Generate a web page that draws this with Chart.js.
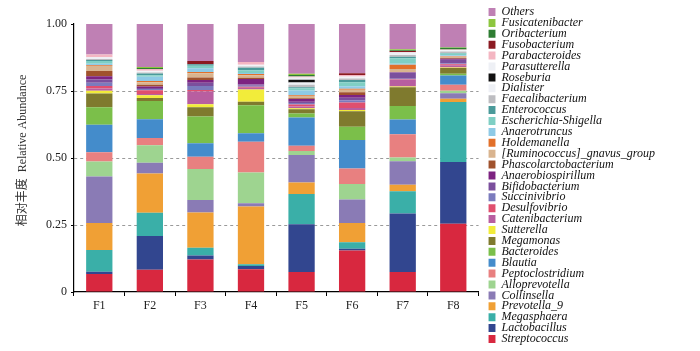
<!DOCTYPE html>
<html>
<head>
<meta charset="utf-8">
<script src="https://cdn.jsdelivr.net/npm/chart.js@4"></script>
<style>
  html, body { margin: 0; padding: 0; background: #fff; }
  #wrap { width: 700px; height: 351px; position: relative; }
</style>
</head>
<body>
<div id="wrap"><canvas id="myChart"></canvas></div>
<script>
const categories = ['F1', 'F2', 'F3', 'F4', 'F5', 'F6', 'F7', 'F8'];
const yTickLabels = ['0', '0.25', '0.50', '0.75', '1.00'];

// relative abundance per sample, bottom of the stack first
const streptococcus = [0.067, 0.083, 0.121, 0.085, 0.075, 0.155, 0.075, 0.255];
const lactobacillus = [0.009, 0.126, 0.015, 0.012, 0.178, 0.006, 0.218, 0.230];
const megasphaera = [0.081, 0.087, 0.029, 0.007, 0.113, 0.025, 0.083, 0.224];
const prevotella9 = [0.100, 0.146, 0.132, 0.215, 0.043, 0.071, 0.024, 0.012];
const collinsella = [0.174, 0.040, 0.046, 0.012, 0.102, 0.088, 0.088, 0.021];
const alloprevotella = [0.056, 0.066, 0.116, 0.115, 0.015, 0.058, 0.014, 0.009];
const peptoclostridium = [0.034, 0.027, 0.046, 0.115, 0.020, 0.058, 0.087, 0.022];
const blautia = [0.103, 0.070, 0.050, 0.031, 0.105, 0.106, 0.055, 0.035];
const bacteroides = [0.065, 0.068, 0.100, 0.105, 0.015, 0.050, 0.050, 0.006];
const megamonas = [0.052, 0.011, 0.034, 0.013, 0.016, 0.057, 0.070, 0.022];
const sutterella = [0.010, 0.010, 0.012, 0.046, 0.004, 0.005, 0.003, 0.002];
const catenibacterium = [0.008, 0.005, 0.047, 0.006, 0.006, 0.008, 0.025, 0.008];
const desulfovibrio = [0.010, 0.014, 0.006, 0.004, 0.008, 0.020, 0.002, 0.004];
const succinivibrio = [0.012, 0.004, 0.015, 0.004, 0.005, 0.008, 0.002, 0.003];
const bifidobacterium = [0.012, 0.004, 0.012, 0.004, 0.005, 0.010, 0.022, 0.014];
const anaerobiospirillum = [0.012, 0.006, 0.010, 0.021, 0.010, 0.010, 0.002, 0.003];
const phascolarctobacterium = [0.020, 0.006, 0.009, 0.004, 0.003, 0.010, 0.000, 0.003];
const ruminococcusGnavus = [0.018, 0.010, 0.016, 0.010, 0.008, 0.010, 0.012, 0.005];
const holdemanella = [0.003, 0.004, 0.005, 0.004, 0.003, 0.003, 0.016, 0.002];
const anaerotruncus = [0.006, 0.016, 0.014, 0.004, 0.018, 0.010, 0.004, 0.003];
const escherichiaShigella = [0.010, 0.006, 0.009, 0.010, 0.008, 0.015, 0.020, 0.007];
const enterococcus = [0.004, 0.006, 0.006, 0.010, 0.004, 0.008, 0.006, 0.002];
const faecalibacterium = [0.003, 0.004, 0.000, 0.004, 0.009, 0.006, 0.006, 0.005];
const dialister = [0.004, 0.004, 0.000, 0.003, 0.009, 0.004, 0.008, 0.004];
const roseburia = [0.000, 0.000, 0.000, 0.000, 0.010, 0.000, 0.000, 0.000];
const parasutterella = [0.003, 0.003, 0.000, 0.004, 0.008, 0.003, 0.003, 0.002];
const parabacteroides = [0.010, 0.006, 0.000, 0.010, 0.004, 0.006, 0.000, 0.002];
const fusobacterium = [0.000, 0.000, 0.012, 0.000, 0.000, 0.006, 0.004, 0.000];
const oribacterium = [0.000, 0.004, 0.000, 0.000, 0.006, 0.000, 0.003, 0.006];
const fusicatenibacter = [0.000, 0.004, 0.000, 0.000, 0.004, 0.000, 0.004, 0.002];
const others = [0.114, 0.160, 0.138, 0.142, 0.186, 0.184, 0.094, 0.087];

const seriesNames = [
  'Streptococcus', 'Lactobacillus', 'Megasphaera', 'Prevotella_9', 'Collinsella',
  'Alloprevotella', 'Peptoclostridium', 'Blautia', 'Bacteroides', 'Megamonas',
  'Sutterella', 'Catenibacterium', 'Desulfovibrio', 'Succinivibrio', 'Bifidobacterium',
  'Anaerobiospirillum', 'Phascolarctobacterium', '[Ruminococcus]_gnavus_group', 'Holdemanella',
  'Anaerotruncus', 'Escherichia-Shigella', 'Enterococcus', 'Faecalibacterium', 'Dialister',
  'Roseburia', 'Parasutterella', 'Parabacteroides', 'Fusobacterium', 'Oribacterium',
  'Fusicatenibacter', 'Others'
];
const seriesValues = [
  streptococcus, lactobacillus, megasphaera, prevotella9, collinsella,
  alloprevotella, peptoclostridium, blautia, bacteroides, megamonas,
  sutterella, catenibacterium, desulfovibrio, succinivibrio, bifidobacterium,
  anaerobiospirillum, phascolarctobacterium, ruminococcusGnavus, holdemanella,
  anaerotruncus, escherichiaShigella, enterococcus, faecalibacterium, dialister,
  roseburia, parasutterella, parabacteroides, fusobacterium, oribacterium,
  fusicatenibacter, others
];
const seriesColors = [
  '#d8283f', '#32468f', '#3aafa8', '#f0a035', '#8a7bb5',
  '#9ed490', '#e88080', '#448ccb', '#7bbf4a', '#7f7a2e',
  '#f2ec3a', '#b85ea0', '#e04f6e', '#7b7bbd', '#7b4f9d',
  '#7d2381', '#a0522d', '#d9b48f', '#e2702a',
  '#8ecae6', '#7fcfc4', '#4a9a9a', '#bdbdc1', '#eef0f5',
  '#111111', '#eef0f5', '#f4b6c2', '#8b1a22', '#2e7d32',
  '#8dc63f', '#bf80b4'
];

const serif = "'Liberation Serif', 'Times New Roman', 'Noto Sans CJK SC', serif";

const datasets = seriesNames.map((name, i) => ({
  label: name,
  data: seriesValues[i],
  backgroundColor: seriesColors[i],
  borderWidth: 0,
  barPercentage: 0.52,
  categoryPercentage: 1.0,
}));

const canvas = document.getElementById('myChart');
new Chart(canvas, {
  type: 'bar',
  data: { labels: categories, datasets: datasets },
  options: {
    responsive: true,
    maintainAspectRatio: false,
    animation: false,
    layout: { padding: { top: 0, right: 35, bottom: 0, left: 0 } },
    plugins: {
      tooltip: { enabled: false },
      legend: {
        position: 'right',
        reverse: true,
        maxWidth: 240,
        labels: {
          boxWidth: 8,
          boxHeight: 8,
          padding: -1.1,
          color: '#111',
          font: { family: serif, size: 12, style: 'italic' }
        }
      }
    },
    scales: {
      x: {
        stacked: true,
        grid: {
          offset: true,
          drawOnChartArea: false,
          drawTicks: true,
          tickLength: 4,
          tickColor: '#000',
        },
        border: { display: true, color: '#000', width: 1.2 },
        ticks: { color: '#222', padding: 3, font: { family: serif, size: 12 } },
        afterFit: (s) => { s.height = 59; }
      },
      y: {
        stacked: true,
        min: 0,
        max: 1,
        grid: {
          color: (ctx) => (ctx.tick && ctx.tick.value > 0 && ctx.tick.value < 1) ? '#9a9a9a' : 'rgba(0,0,0,0)',
          tickColor: '#000',
          tickLength: 3,
          tickBorderDash: [],
        },
        border: { display: true, color: '#000', width: 1.2, dash: [3, 3] },
        ticks: {
          stepSize: 0.25,
          color: '#222',
          padding: 4,
          font: { family: serif, size: 12 },
          callback: (v, i) => yTickLabels[i]
        },
        title: {
          display: true,
          text: '     相对丰度  Relative Abundance',
          color: '#333',
          font: { family: serif, size: 12 },
          padding: { top: 16, bottom: 0 }
        },
        afterFit: (s) => { s.width = 74; s.paddingTop = 24; }
      },
      yRight: {
        position: 'right',
        display: true,
        grid: { display: false },
        border: { display: false },
        ticks: { display: false },
        afterFit: (s) => { s.width = 10; }
      }
    }
  }
});
</script>
</body>
</html>
